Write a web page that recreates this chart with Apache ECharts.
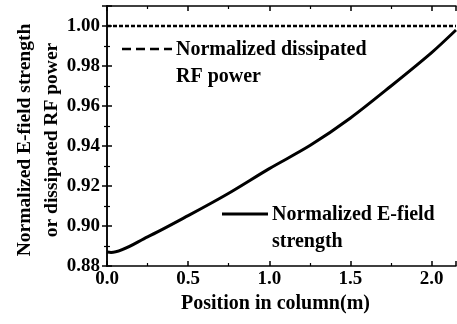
<!DOCTYPE html>
<html>
<head>
<meta charset="utf-8">
<script src="https://cdn.jsdelivr.net/npm/echarts@6/dist/echarts.min.js"></script>
<style>
  html, body { margin: 0; padding: 0; background: #fff; }
  #chart { width: 457px; height: 324px; }
</style>
</head>
<body>
<div id="chart"></div>
<script>
// positions along the column (m)
const positions = [0, 0.025, 0.25, 0.5, 0.75, 1.0, 1.25, 1.5, 1.75, 2.0, 2.15];
// normalized E-field strength
const efield = [0.887, 0.8868, 0.8946, 0.9052, 0.9164, 0.9287, 0.9402, 0.954, 0.970, 0.9867, 0.998];
// normalized dissipated RF power
const powerX = [0, 2.15];
const power = [1.0, 1.0];

const legendRF = ["Normalized dissipated", "RF power"];
const legendE = ["Normalized E-field", "strength"];
const yTitle = ["Normalized E-field strength", "or dissipated RF power"];

const font = "'Liberation Serif', 'Times New Roman', serif";
const chart = echarts.init(document.getElementById("chart"));

const axisCommon = {
  axisLine: { show: true, lineStyle: { color: "#000", width: 1.5 } },
  axisTick: { show: true, inside: true, length: 5, lineStyle: { color: "#000", width: 1.5 } },
  minorTick: { show: true, splitNumber: 2, length: 3, lineStyle: { color: "#000", width: 1.2 } },
  splitLine: { show: false },
};

const labelStyle = { color: "#000", fontFamily: font, fontWeight: "bold", fontSize: 19 };

const option = {
  animation: false,
  grid: { left: 107, top: 6, right: 1, bottom: 58, containLabel: false, outerBoundsMode: "none" },
  xAxis: [
    {
      type: "value", min: 0, max: 2.15, interval: 0.5, position: "bottom",
      ...axisCommon,
      axisLabel: { ...labelStyle, margin: 4, showMaxLabel: false, formatter: v => v.toFixed(1) },
      name: "Position in column(m)", nameLocation: "middle", nameGap: 28, nameMoveOverlap: false,
      nameTextStyle: { ...labelStyle, fontSize: 20, padding: [0, 12, 0, 0] },
    },
    {
      type: "value", min: 0, max: 2.15, interval: 0.5, position: "top",
      ...axisCommon, axisLabel: { show: false },
    },
  ],
  yAxis: [
    {
      type: "value", min: 0.88, max: 1.01, interval: 0.02, position: "left",
      ...axisCommon,
      axisLabel: { ...labelStyle, margin: 7, showMaxLabel: false, formatter: v => v.toFixed(2) },
    },
    {
      type: "value", min: 0.88, max: 1.01, interval: 0.02, position: "right",
      ...axisCommon, axisLabel: { show: false },
    },
  ],
  series: [
    {
      type: "line", name: "power", showSymbol: false,
      data: powerX.map((x, i) => [x, power[i]]),
      lineStyle: { color: "#000", width: 2.5, type: [4, 2] },
    },
    {
      type: "line", name: "efield", showSymbol: false, smooth: 0.3,
      data: positions.map((x, i) => [x, efield[i]]),
      lineStyle: { color: "#000", width: 3 },
    },
  ],
  graphic: [
    // y axis title
    { type: "text", x: 38.5, y: 140, rotation: Math.PI / 2,
      style: { text: yTitle.join("\n"), font: "bold 19.5px " + font, fill: "#000",
               lineHeight: 27, align: "center", verticalAlign: "middle" } },
    // legend
    { type: "line", shape: { x1: 122, y1: 49, x2: 172, y2: 49 },
      style: { stroke: "#000", lineWidth: 2.5, lineDash: [9, 5] } },
    { type: "text", left: 176, top: 36,
      style: { text: legendRF.join("\n"), font: "bold 20px " + font, fill: "#000", lineHeight: 27 } },
    { type: "line", shape: { x1: 222, y1: 214, x2: 268, y2: 214 },
      style: { stroke: "#000", lineWidth: 3 } },
    { type: "text", left: 272, top: 201,
      style: { text: legendE.join("\n"), font: "bold 20px " + font, fill: "#000", lineHeight: 27 } },
  ],
};

chart.setOption(option);
</script>
</body>
</html>
